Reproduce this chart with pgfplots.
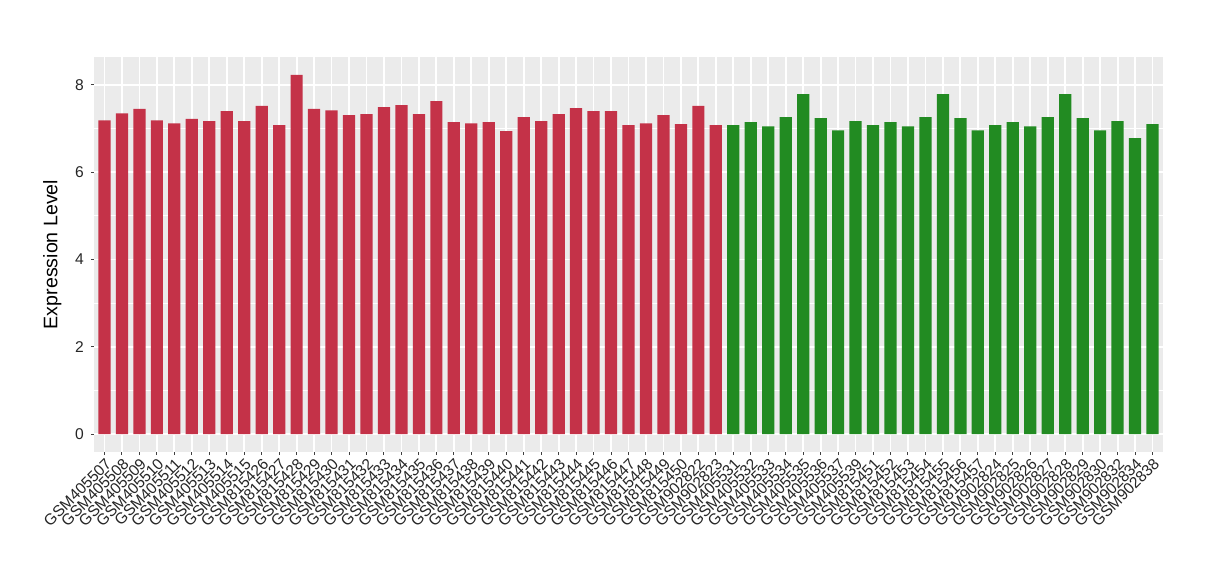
\documentclass[border=0pt]{standalone}
\usepackage{pgfplots}
\pgfplotsset{compat=1.18}
\usepackage{pgfplotstable}
\usepackage{fontspec}
\setmainfont{Liberation Sans}
\definecolor{barred}{RGB}{196,50,72}
\definecolor{bargreen}{RGB}{34,139,34}
\definecolor{panelbg}{RGB}{235,235,235}

\pgfplotstableread{
x y
1 7.19
2 7.35
3 7.45
4 7.19
5 7.12
6 7.22
7 7.17
8 7.40
9 7.17
10 7.52
11 7.08
12 8.23
13 7.45
14 7.42
15 7.31
16 7.33
17 7.49
18 7.54
19 7.33
20 7.63
21 7.15
22 7.12
23 7.15
24 6.94
25 7.26
26 7.17
27 7.33
28 7.47
29 7.40
30 7.40
31 7.08
32 7.12
33 7.31
34 7.10
35 7.52
36 7.08
}\redtab

\pgfplotstableread{
x y
37 7.08
38 7.15
39 7.05
40 7.26
41 7.79
42 7.24
43 6.96
44 7.17
45 7.08
46 7.15
47 7.05
48 7.26
49 7.79
50 7.24
51 6.96
52 7.08
53 7.15
54 7.05
55 7.26
56 7.79
57 7.24
58 6.96
59 7.17
60 6.78
61 7.10
}\greentab

\begin{document}
\begin{tikzpicture}
\path[use as bounding box] (0,0) rectangle (610pt,290pt);
\begin{axis}[
 at={(47pt,64pt)}, anchor=south west,
 scale only axis, width=534.5pt, height=197.5pt,
 xmin=0.4, xmax=61.6, ymin=-0.41, ymax=8.64,
 axis background/.style={fill=panelbg},
 axis line style={draw=none},
 grid=both,
 ytick={0,2,4,6,8}, minor ytick={1,3,5,7},
 major grid style={white, line width=0.9pt},
 minor grid style={white, line width=0.45pt},
 xtick={1,...,61},
 xticklabels={GSM405507,GSM405508,GSM405509,GSM405510,GSM405511,GSM405512,GSM405513,GSM405514,GSM405515,GSM815426,GSM815427,GSM815428,GSM815429,GSM815430,GSM815431,GSM815432,GSM815433,GSM815434,GSM815435,GSM815436,GSM815437,GSM815438,GSM815439,GSM815440,GSM815441,GSM815442,GSM815443,GSM815444,GSM815445,GSM815446,GSM815447,GSM815448,GSM815449,GSM815450,GSM902822,GSM902823,GSM405531,GSM405532,GSM405533,GSM405534,GSM405535,GSM405536,GSM405537,GSM405539,GSM815451,GSM815452,GSM815453,GSM815454,GSM815455,GSM815456,GSM815457,GSM902824,GSM902825,GSM902826,GSM902827,GSM902828,GSM902829,GSM902830,GSM902832,GSM902834,GSM902838},
 x tick label style={rotate=45, anchor=north east, font=\fontsize{7.8}{8}\selectfont, text=black!85, inner sep=0.6pt},
 y tick label style={font=\fontsize{7.8}{8}\selectfont, text=black!85},
 tick style={color=black!75, line width=0.5pt},
 xtick pos=bottom, ytick pos=left,
 tick align=outside, major tick length=1.6pt, minor tick length=0pt,
 ylabel={Expression Level},
 ylabel style={font=\fontsize{9.8}{11}\selectfont},
 /pgf/number format/assume math mode=true,
]
\addplot[ybar, bar width=0.7, bar shift=0pt, fill=barred, draw=none] table[x=x,y=y] {\redtab};
\addplot[ybar, bar width=0.7, bar shift=0pt, fill=bargreen, draw=none] table[x=x,y=y] {\greentab};
\end{axis}
\end{tikzpicture}
\end{document}
